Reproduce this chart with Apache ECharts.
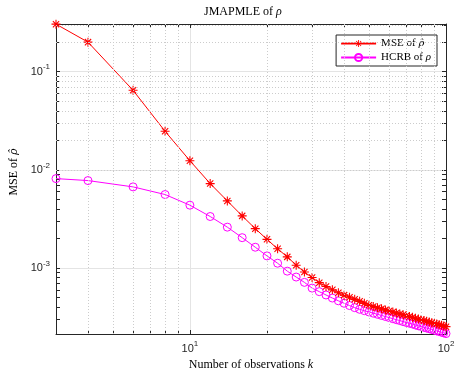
<!DOCTYPE html>
<html>
<head>
<meta charset="utf-8">
<script src="https://cdn.jsdelivr.net/npm/echarts@6/dist/echarts.min.js"></script>
<style>
  html, body { margin: 0; padding: 0; background: #fff; }
  #chart { width: 459px; height: 371px; }
</style>
</head>
<body>
<div id="chart"></div>
<script>
// number of observations k
const kValues = [3, 4, 6, 8, 10, 12, 14, 16, 18, 20, 22, 24, 26, 28, 30, 32, 34, 36, 38, 40,
  42, 44, 46, 48, 50, 52, 54, 56, 58, 60, 62, 64, 66, 68, 70, 72, 74, 76, 78, 80,
  82, 84, 86, 88, 90, 92, 94, 96, 98, 100];

// MSE of rho-hat (red, asterisks)
const mseValues = [0.305, 0.2, 0.0646, 0.0247, 0.0124, 0.00725, 0.00483, 0.0034, 0.00252, 0.00196,
  0.00157, 0.0013, 0.00107, 0.00091, 0.0008, 0.00071, 0.00065, 0.0006, 0.00056, 0.00053,
  0.000505, 0.00048, 0.000458, 0.000437, 0.000417, 0.000405, 0.000395, 0.000385, 0.000375, 0.000366,
  0.000357, 0.000349, 0.000341, 0.000334, 0.000327, 0.000321, 0.000315, 0.000308, 0.000303, 0.000297,
  0.000292, 0.000287, 0.000282, 0.000278, 0.000273, 0.000269, 0.000265, 0.000261, 0.000257, 0.000253];

// HCRB of rho (magenta, circles)
const hcrbValues = [0.00815, 0.00778, 0.00671, 0.00561, 0.00437, 0.00335, 0.00261, 0.00204, 0.00163, 0.00133,
  0.00112, 0.00093, 0.00081, 0.000715, 0.000625, 0.000575, 0.000532, 0.000495, 0.000464, 0.000438,
  0.000415, 0.000395, 0.00038, 0.000368, 0.000357, 0.000347, 0.000338, 0.000329, 0.000321, 0.000313,
  0.000305, 0.000298, 0.000292, 0.000285, 0.000279, 0.000274, 0.000269, 0.000263, 0.000258, 0.000254,
  0.000249, 0.000245, 0.000241, 0.000237, 0.000233, 0.000229, 0.000226, 0.000222, 0.000219, 0.000215];

// axis ranges and tick values
const xRange = [3, 100];
const yRange = [2.13e-4, 0.306];
const xMajorTicks = [10, 100];
const xMinorTicks = [4, 5, 6, 7, 8, 9, 20, 30, 40, 50, 60, 70, 80, 90];
const yMajorTicks = [0.001, 0.01, 0.1];
const yMinorTicks = [3e-4, 4e-4, 5e-4, 6e-4, 7e-4, 8e-4, 9e-4,
  2e-3, 3e-3, 4e-3, 5e-3, 6e-3, 7e-3, 8e-3, 9e-3,
  2e-2, 3e-2, 4e-2, 5e-2, 6e-2, 7e-2, 8e-2, 9e-2,
  2e-1, 3e-1];

const axisColor = '#262626';
const sans = '"Liberation Sans", Arial, sans-serif';
const serif = '"Liberation Serif", "Times New Roman", serif';
const hatSerif = '"DejaVu Serif", serif';

// asterisk marker (+ and x combined)
const starPath = 'path://M8.8 0H11.2V20H8.8Z M0 8.8H20V11.2H0Z M2.2 3.9L3.9 2.2L17.8 16.1L16.1 17.8Z M16.1 2.2L17.8 3.9L3.9 17.8L2.2 16.1Z';

const powLabel = (v) => {
  const e = Math.log10(v);
  if (Math.abs(e - Math.round(e)) > 1e-6) return '';
  return '10{s|' + Math.round(e) + '}';
};
const labelRich = { s: { fontSize: 8, fontFamily: sans, color: axisColor, padding: [0, 0, 9, 0] } };
const italic = {
  i: { fontStyle: 'italic', fontFamily: serif, fontSize: 12, color: '#000' },
  h: { fontStyle: 'italic', fontFamily: hatSerif, fontSize: 11, color: '#000' }
};

const tickAxis = (pos, dim, ticks, showLine) => ({
  type: 'log', logBase: 10,
  min: dim === 'x' ? xRange[0] : yRange[0],
  max: dim === 'x' ? xRange[1] : yRange[1],
  position: pos,
  axisLine: { show: showLine, onZero: false, lineStyle: { color: axisColor, width: 1 } },
  axisTick: { show: true, inside: true, length: 4, customValues: ticks, lineStyle: { color: axisColor } },
  axisLabel: { show: false },
  splitLine: { show: false }
});

const chart = echarts.init(document.getElementById('chart'));
chart.setOption({
  animation: false,
  backgroundColor: '#fff',
  title: {
    text: 'JMAPMLE of {i|ρ}',
    left: 204, top: 6, padding: 0,
    textStyle: { fontFamily: serif, fontSize: 12, fontWeight: 'normal', color: '#000', rich: italic }
  },
  grid: { left: 56, right: 13, top: 24, bottom: 37, containLabel: false, outerBoundsMode: 'none' },
  legend: {
    data: ['MSE', 'HCRB'],
    orient: 'vertical',
    right: 22, top: 35,
    itemWidth: 35, itemHeight: 9, itemGap: 3,
    padding: [3, 6, 3, 4],
    borderColor: axisColor, borderWidth: 1, backgroundColor: '#fff',
    textStyle: { fontFamily: serif, fontSize: 11, color: '#000',
      rich: {
        i: { fontStyle: 'italic', fontFamily: serif, fontSize: 11, color: '#000' },
        h: { fontStyle: 'italic', fontFamily: hatSerif, fontSize: 10, color: '#000' }
      } },
    formatter: (name) => name === 'MSE' ? 'MSE of {h|ρ̂}' : 'HCRB of {i|ρ}'
  },
  xAxis: [
    {
      type: 'log', logBase: 10, min: xRange[0], max: xRange[1], position: 'bottom',
      axisLine: { show: true, onZero: false, lineStyle: { color: axisColor, width: 1 } },
      axisTick: { show: false },
      axisLabel: { formatter: powLabel, rich: labelRich, color: axisColor, fontFamily: sans, fontSize: 11, margin: 6 },
      splitLine: { show: true, lineStyle: { color: '#e4e4e4', width: 1 } },
      name: 'Number of observations {i|k}',
      nameLocation: 'middle', nameGap: 20,
      nameTextStyle: { fontFamily: serif, fontSize: 12, color: '#000', rich: italic }
    },
    tickAxis('bottom', 'x', xMajorTicks.concat(xMinorTicks), false),
    tickAxis('top', 'x', xMajorTicks.concat(xMinorTicks), true)
  ],
  yAxis: [
    {
      type: 'log', logBase: 10, min: yRange[0], max: yRange[1], position: 'left',
      axisLine: { show: true, onZero: false, lineStyle: { color: axisColor, width: 1 } },
      axisTick: { show: false },
      axisLabel: { formatter: powLabel, rich: labelRich, color: axisColor, fontFamily: sans, fontSize: 11, margin: 6 },
      splitLine: { show: true, lineStyle: { color: '#e4e4e4', width: 1 } },
      name: 'MSE of {h|ρ̂}',
      nameLocation: 'middle', nameGap: 35,
      nameTextStyle: { fontFamily: serif, fontSize: 12, color: '#000', rich: italic, padding: [0, 0, 0, 14] }
    },
    tickAxis('left', 'y', yMajorTicks.concat(yMinorTicks), false),
    tickAxis('right', 'y', yMajorTicks.concat(yMinorTicks), true)
  ],
  series: [
    {
      // dotted minor grid
      type: 'line', data: [], silent: true, z: 1,
      markLine: {
        silent: true, animation: false,
        symbol: ['none', 'none'],
        label: { show: false },
        lineStyle: { color: '#cccccc', type: [1, 2], width: 1 },
        emphasis: { disabled: true },
        data: xMinorTicks.map((v) => ({ xAxis: v })).concat(yMinorTicks.map((v) => ({ yAxis: v })))
      }
    },
    {
      name: 'MSE', type: 'line', z: 4,
      data: kValues.map((k, i) => [k, mseValues[i]]),
      symbol: starPath, symbolSize: 9,
      lineStyle: { color: '#ff0000', width: 1 },
      itemStyle: { color: '#ff0000', borderWidth: 0 }
    },
    {
      name: 'HCRB', type: 'line', z: 3,
      data: kValues.map((k, i) => [k, hcrbValues[i]]),
      symbol: 'circle', symbolSize: 8,
      lineStyle: { color: '#ff00ff', width: 1 },
      itemStyle: { color: 'rgba(255,0,255,0)', borderColor: '#ff00ff', borderWidth: 1 }
    }
  ]
});
</script>
</body>
</html>
